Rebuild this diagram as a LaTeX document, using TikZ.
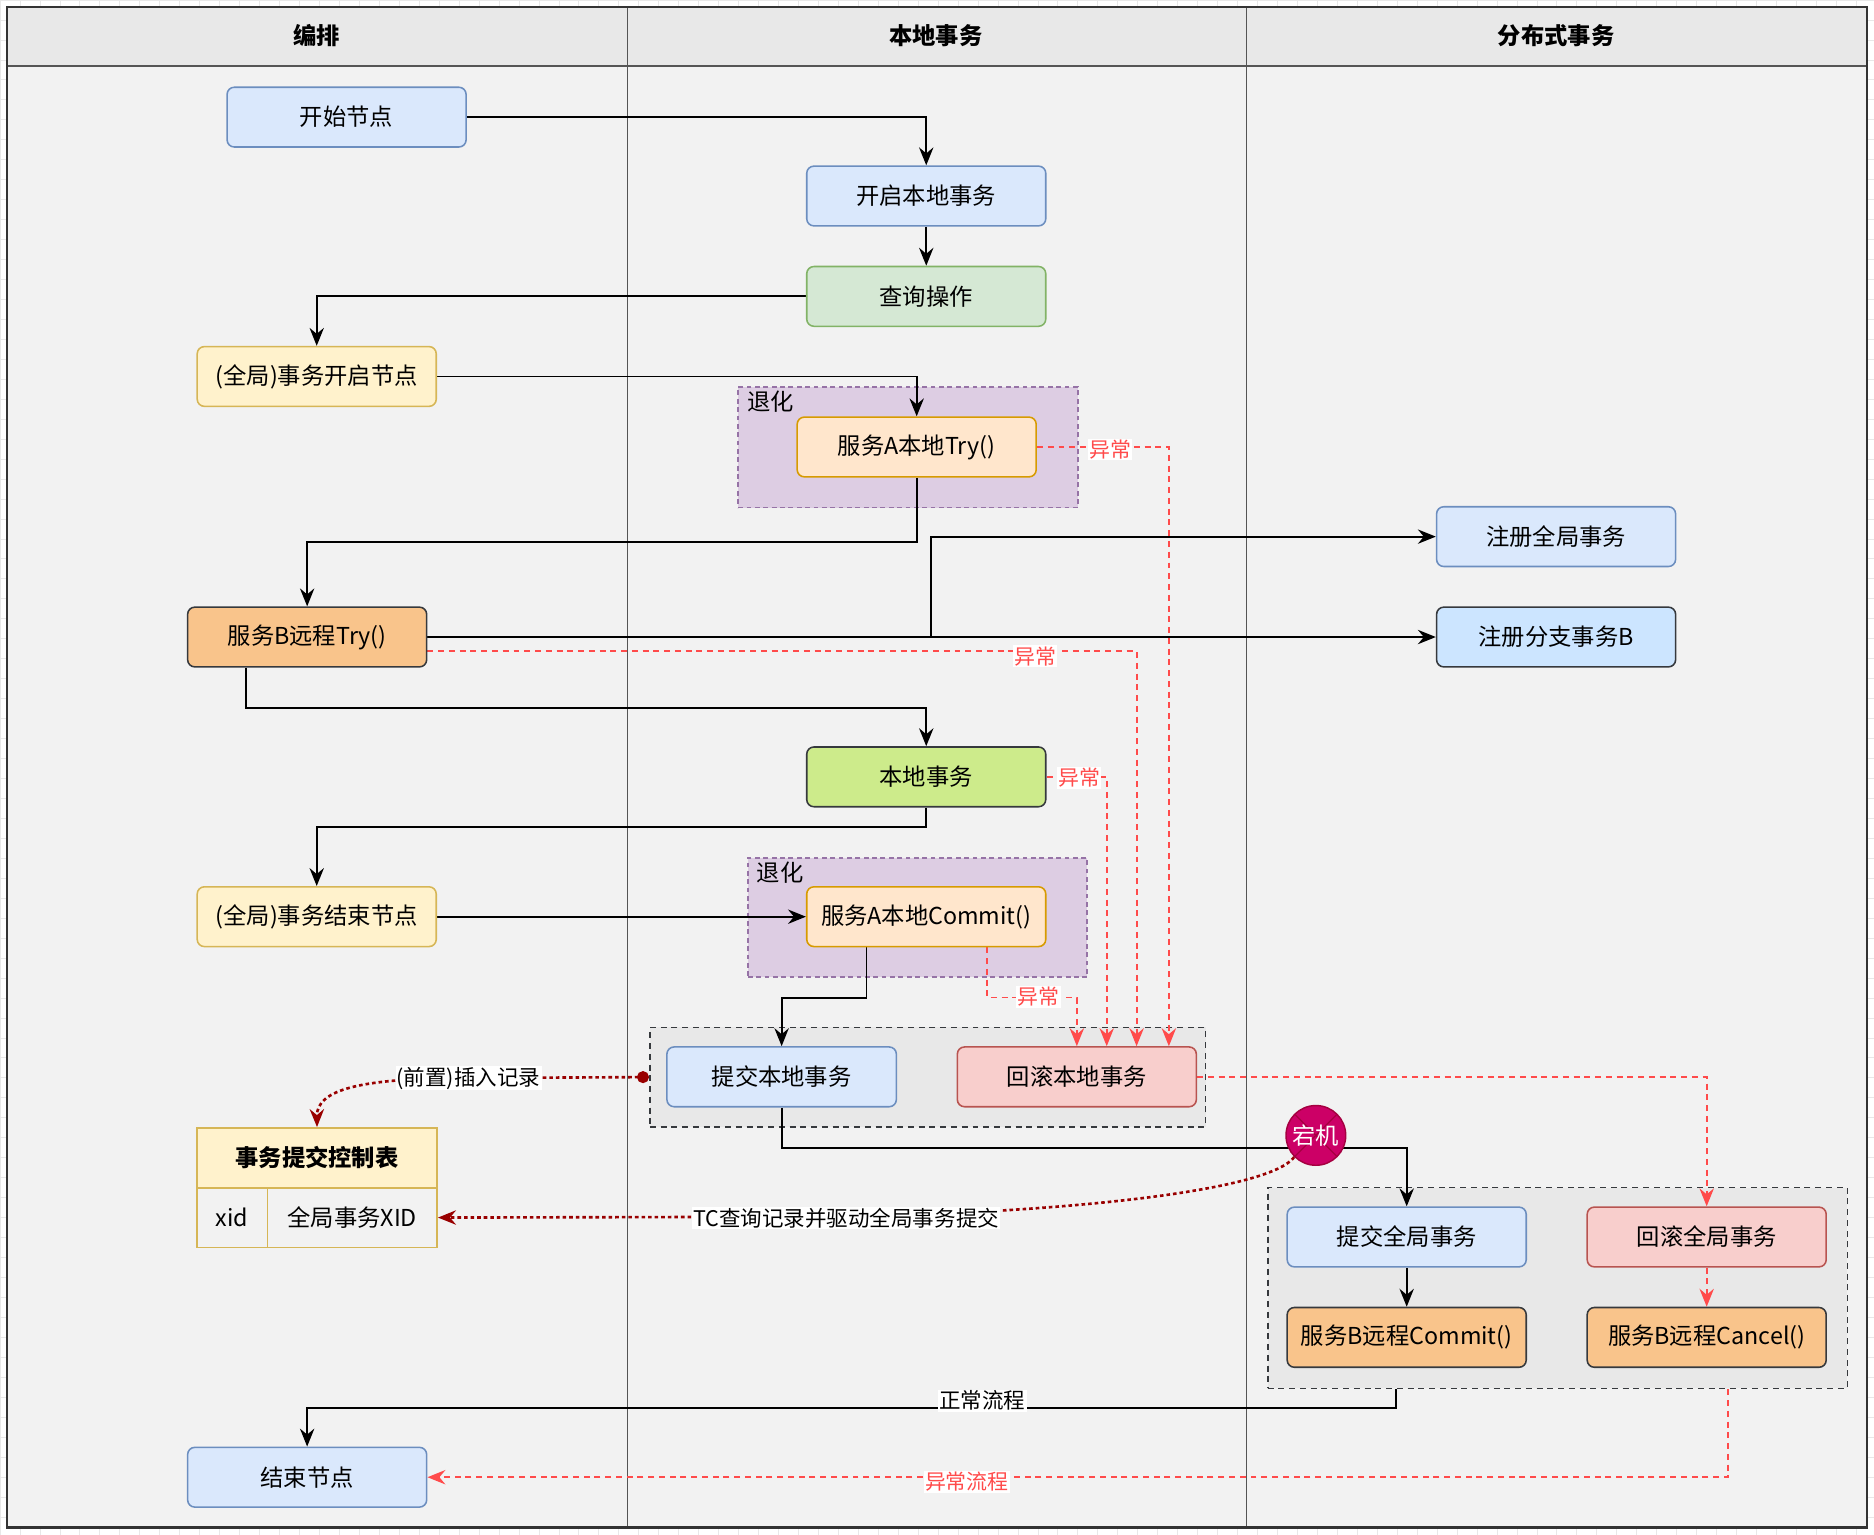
\documentclass[tikz,border=0pt]{standalone}
\usepackage{fontspec}
\setmainfont{Noto Sans CJK SC}
\usetikzlibrary{arrows.meta,calc}

\definecolor{laneF}{HTML}{F2F2F2}
\definecolor{headF}{HTML}{E8E8E8}
\definecolor{frameC}{HTML}{555555}
\definecolor{gridC}{HTML}{E8E8E8}
\definecolor{blueF}{HTML}{DAE8FC}
\definecolor{blueS}{HTML}{6C8EBF}
\definecolor{greenF}{HTML}{D5E8D4}
\definecolor{greenS}{HTML}{82B366}
\definecolor{yellowF}{HTML}{FFF2CC}
\definecolor{yellowS}{HTML}{D6B656}
\definecolor{peachF}{HTML}{FFE6CC}
\definecolor{peachS}{HTML}{D79B00}
\definecolor{orangeF}{HTML}{F9C48B}
\definecolor{skyF}{HTML}{CCE5FF}
\definecolor{limeF}{HTML}{CDEB8B}
\definecolor{redF}{HTML}{F8CECC}
\definecolor{redS}{HTML}{B85450}
\definecolor{darkS}{HTML}{36393D}
\definecolor{purpleF}{HTML}{DDCDE3}
\definecolor{purpleS}{HTML}{9673A6}
\definecolor{groupF}{HTML}{E8E8E8}
\definecolor{errC}{HTML}{FF4B4B}
\definecolor{recC}{HTML}{990000}
\definecolor{crashF}{HTML}{CC0066}
\definecolor{crashS}{HTML}{A50040}

\pgfdeclarelayer{back}
\pgfdeclarelayer{lines}
\pgfsetlayers{back,lines,main}

\tikzset{
  txt/.style={font=\fontsize{19.5}{23}\selectfont},
  lbl/.style={font=\fontsize{18}{21}\selectfont, fill=white, inner sep=1pt},
  basebox/.style={txt, rounded corners=6pt, minimum width=200pt, minimum height=50pt, inner sep=0pt, line width=1.3pt},
  bluebox/.style={basebox, fill=blueF, draw=blueS},
  greenbox/.style={basebox, fill=greenF, draw=greenS},
  yellowbox/.style={basebox, fill=yellowF, draw=yellowS},
  peachbox/.style={basebox, fill=peachF, draw=peachS},
  orangebox/.style={basebox, fill=orangeF, draw=darkS},
  skybox/.style={basebox, fill=skyF, draw=darkS},
  limebox/.style={basebox, fill=limeF, draw=darkS},
  redbox/.style={basebox, fill=redF, draw=redS},
  degrade/.style={fill=purpleF, draw=purpleS, line width=1.4pt, dash pattern=on 4pt off 3pt, anchor=north west, inner sep=0pt},
  groupbox/.style={fill=groupF, draw=darkS, line width=1.4pt, dash pattern=on 5pt off 4pt, anchor=north west, inner sep=0pt},
  bigtip/.style={-{Stealth[length=15pt,width=12pt,inset=5pt,fill=#1]}},
  flow/.style={draw=black, line width=1.6pt, bigtip=black},
  err/.style={draw=errC, line width=1.5pt, dash pattern=on 5pt off 4pt, bigtip=errC},
  errlbl/.style={lbl, text=errC, font=\fontsize{17.5}{20}\selectfont},
  rec/.style={draw=recC, line width=2.2pt, dash pattern=on 3pt off 2.5pt},
  cell/.style={txt, draw=yellowS, line width=1.5pt, anchor=north west, inner sep=0pt, minimum height=50pt},
}

\begin{document}
\begin{tikzpicture}[x=1pt,y=-1pt]
\useasboundingbox (0,0) rectangle (1568,1284);

% page background and editor grid
\begin{pgfonlayer}{back}
\fill[white] (0,0) rectangle (1568,1284);
\foreach \i in {0,...,94} \draw[gridC, line width=0.6pt] (\i*16.7,0) -- (\i*16.7,1284);
\foreach \i in {0,...,77} \draw[gridC, line width=0.6pt] (0,\i*16.7) -- (1568,\i*16.7);

% swimlanes
\fill[laneF] (6,55) rectangle (1562,1278);
\fill[headF] (6,6) rectangle (1562,55);
\draw[frameC, line width=1.2pt] (525,6) -- (525,1278);
\draw[frameC, line width=1.2pt] (1043,6) -- (1043,1278);
\draw[frameC, line width=2pt] (6,55) -- (1562,55);
\draw[black!80, line width=2pt] (6,6) rectangle (1562,1278);
\node[txt, font=\fontsize{19.5}{23}\selectfont\bfseries] (laneA) at (265,30) {编排};
\node[txt, font=\fontsize{19.5}{23}\selectfont\bfseries] (laneB) at (783,30) {本地事务};
\node[txt, font=\fontsize{19.5}{23}\selectfont\bfseries] (laneC) at (1302,30) {分布式事务};

% grouping frames
\node[degrade, minimum width=284pt, minimum height=101pt] (deg1) at (617,323) {};
\node[txt, anchor=north west, inner sep=0pt] (deg1t) at ([shift={(8pt,-4pt)}]deg1.north west) {退化};
\node[degrade, minimum width=284pt, minimum height=100pt] (deg2) at (625,717) {};
\node[txt, anchor=north west, inner sep=0pt] (deg2t) at ([shift={(8pt,-4pt)}]deg2.north west) {退化};
\node[groupbox, minimum width=465pt, minimum height=83pt] (grpL) at (543,859) {};
\node[groupbox, minimum width=485pt, minimum height=168pt] (grpG) at (1060,993) {};
\end{pgfonlayer}

% steps
\node[bluebox] (start) at (290,98) {开始节点};
\node[bluebox] (openlocal) at (775,164) {开启本地事务};
\node[greenbox] (query) at (775,248) {查询操作};
\node[yellowbox] (gopen) at (265,315) {(全局)事务开启节点};
\node[peachbox] (atry) at (767,374) {服务A本地Try()};
\node[bluebox] (regglobal) at (1302,449) {注册全局事务};
\node[orangebox] (btry) at (257,533) {服务B远程Try()};
\node[skybox] (regbranch) at (1302,533) {注册分支事务B};
\node[limebox] (local) at (775,650) {本地事务};
\node[yellowbox] (gend) at (265,767) {(全局)事务结束节点};
\node[peachbox] (acommit) at (775,767) {服务A本地Commit()};
\node[bluebox, minimum width=192pt] (commitlocal) at (654,901) {提交本地事务};
\node[redbox] (rollbacklocal) at (901,901) {回滚本地事务};
\node[bluebox] (commitglobal) at (1177,1035) {提交全局事务};
\node[redbox] (rollbackglobal) at (1428,1035) {回滚全局事务};
\node[orangebox] (bcommit) at (1177,1119) {服务B远程Commit()};
\node[orangebox] (bcancel) at (1428,1119) {服务B远程Cancel()};
\node[bluebox] (endnode) at (257,1236) {结束节点};

% commit control table
\node[cell, fill=yellowF, minimum width=201pt, font=\fontsize{19.5}{23}\selectfont\bfseries] (tabhead) at (164,943) {事务提交控制表};
\node[cell, fill=laneF, minimum width=59pt] (tabkey) at (164,993) {xid};
\node[cell, fill=laneF, minimum width=142pt] (tabval) at (223,993) {全局事务XID};

% crash marker
\node[circle, fill=crashF, draw=crashS, line width=1.2pt, minimum size=50pt, inner sep=0pt, text=white, txt,
  path picture={\draw[crashS, line width=1pt] (path picture bounding box.north west) -- (path picture bounding box.south east)
                 (path picture bounding box.north east) -- (path picture bounding box.south west);}]
  (crash) at (1101,950) {宕机};

\coordinate (fork) at (779,533);

\begin{pgfonlayer}{lines}
% normal flow
\draw[flow] (start.east) -| (openlocal.north);
\draw[flow] (openlocal.south) -- (query.north);
\draw[flow] (query.west) -| (gopen.north);
\draw[flow] (gopen.east) -| (atry.north);
\draw[flow] (atry.south) -- ++(0,54) -| (btry.north);
\draw[flow] (btry.east) -- (regbranch.west);
\draw[flow] (btry.east) -- (fork) |- (regglobal.west);
\draw[flow] ([xshift=-51pt]btry.south) -- ++(0,34) -| (local.north);
\draw[flow] (local.south) -- ++(0,16) -| (gend.north);
\draw[flow] (gend.east) -- (acommit.west);
\draw[flow] ([xshift=-50pt]acommit.south) -- ++(0,42) -| (commitlocal.north);
\draw[flow] (commitlocal.south) -- ++(0,34) -| (commitglobal.north);
\draw[flow] (commitglobal.south) -- (bcommit.north);
\draw[flow] ([xshift=-135.5pt]grpG.south) -- ++(0,16) -| (endnode.north);

% exception flow
\draw[err] (atry.east) -| ([xshift=77pt]rollbacklocal.north);
\draw[err] ([yshift=-12pt]btry.east) -| ([xshift=50pt]rollbacklocal.north);
\draw[err] (local.east) -| ([xshift=25pt]rollbacklocal.north);
\draw[err] ([xshift=51pt]acommit.south) -- ++(0,42) -| (rollbacklocal.north);
\draw[err] (rollbacklocal.east) -| (rollbackglobal.north);
\draw[err] (rollbackglobal.south) -- (bcancel.north);
\draw[err] ([xshift=142.5pt]grpG.south) |- (endnode.east);

% record keeping
\draw[rec, {Circle[length=10pt,fill=recC]}-{Stealth[length=15pt,width=12pt,inset=5pt,fill=recC]}]
  (grpL.west) -- (392,902) .. controls (300,902) and (265,912) .. (tabhead.north);
\draw[rec, -{Stealth[length=15pt,width=12pt,inset=5pt,fill=recC]}]
  (crash.south west) .. controls (1062,996) and (900,1014) .. (708,1018) -- (tabval.east);
\end{pgfonlayer}

% connector labels
\node[errlbl] (e1) at (929,376) {异常};
\node[errlbl] (e2) at (866,549) {异常};
\node[errlbl] (e3) at (903,651) {异常};
\node[errlbl] (e4) at (869,834) {异常};
\node[errlbl] (e5) at (809,1240) {异常流程};
\node[lbl] (n1) at (822,1172) {正常流程};
\node[lbl] (r1) at (392,902) {(前置)插入记录};
\node[lbl] (r2) at (708,1019) {TC查询记录并驱动全局事务提交};
\end{tikzpicture}
\end{document}
